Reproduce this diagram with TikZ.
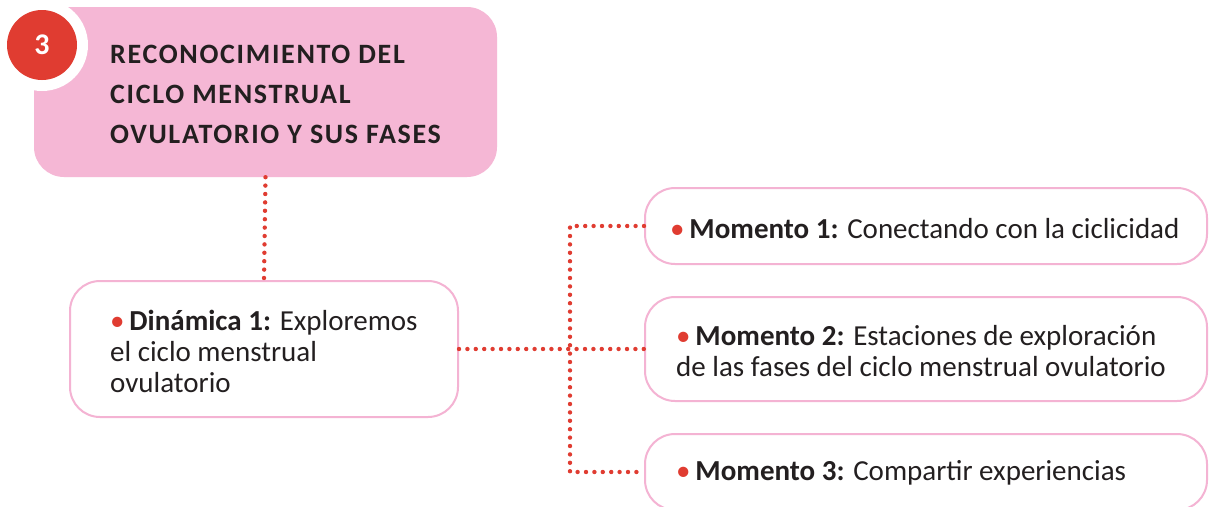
\documentclass[tikz,border=0pt]{standalone}
\usepackage{fontspec}
\setmainfont{Carlito}
\newfontfamily\titlefont[LetterSpace=6]{Carlito}
\definecolor{pinkfill}{HTML}{F5B7D5}
\definecolor{pinkline}{HTML}{F4B3D3}
\definecolor{redc}{HTML}{E03C31}
\definecolor{txt}{HTML}{231F20}
\newcommand{\rb}{{\color{redc}\textbullet}\,}
\begin{document}
\begin{tikzpicture}[x=1pt,y=-1pt,
  wbox/.style={draw=pinkline,line width=2pt,fill=white,rounded corners=30pt,inner sep=0pt},
  dotline/.style={draw=redc,line width=4.4pt,line cap=round,dash pattern=on 0pt off 8.4pt},
  tx/.style={anchor=base west,inner sep=0pt,text=txt,font=\fontsize{29}{31}\selectfont,align=left}]
\useasboundingbox[fill=white] (0,0) rectangle (1210,506);
\begin{scope}
\clip (0,0) rectangle (1210,506);
% title box
\node[fill=pinkfill,rounded corners=30pt,minimum width=463pt,minimum height=170pt,inner sep=0pt] (title) at (265.5,92) {};
\node[fill=white,circle,minimum size=92pt,inner sep=0pt] (ring) at (42,45) {};
\node[fill=redc,circle,minimum size=70pt,inner sep=0pt,text=white,font=\bfseries\fontsize{30}{30}\selectfont] (num) at (42,45) {3};
\node[anchor=base west,inner sep=0pt,text=txt,font=\titlefont\bfseries\fontsize{28}{40}\selectfont,align=left] (ttext) at (110,143) {RECONOCIMIENTO DEL\\CICLO MENSTRUAL\\OVULATORIO Y SUS FASES};
% boxes
\node[wbox,minimum width=388pt,minimum height=136pt] (din) at (264,349) {};
\node[wbox,minimum width=562pt,minimum height=76pt] (m1) at (926,226) {};
\node[wbox,minimum width=562pt,minimum height=104pt] (m2) at (926,349) {};
\node[wbox,minimum width=562pt,minimum height=76pt] (m3) at (926,472) {};
\coordinate (jt) at (570,226);
\coordinate (jb) at (570,472);
% connectors
\draw[dotline] (title.south) -- (din.north);
\draw[dotline] (din.east) -- (m2.west);
\draw[dotline] (m1.west) -- (jt) -- (jb) -- (m3.west);
% texts
\node[tx] (dt) at (110,392) {\rb\textbf{Dinámica 1:} Exploremos\\el ciclo menstrual\\ovulatorio};
\node[tx] (m1t) at (670,238) {\rb\textbf{Momento 1:} Conectando con la ciclicidad};
\node[tx] (m2t) at (676,376) {\rb\textbf{Momento 2:} Estaciones de exploración\\de las fases del ciclo menstrual ovulatorio};
\node[tx] (m3t) at (676,480) {\rb\textbf{Momento 3:} Compartir experiencias};
\end{scope}
\end{tikzpicture}
\end{document}
